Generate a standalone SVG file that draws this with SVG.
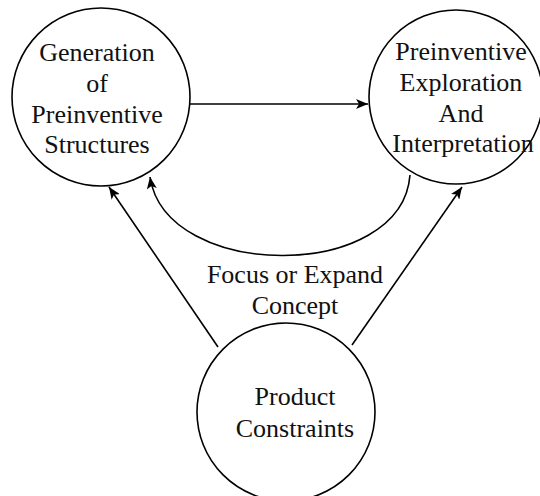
<svg xmlns="http://www.w3.org/2000/svg" width="540" height="496" viewBox="0 0 540 496">
<style>
.node circle{fill:#fff;stroke:#000;stroke-width:1.6}
text{font-family:"Liberation Serif","Times New Roman",serif;font-size:26px;fill:#111;text-anchor:middle}
.conn path{fill:none;stroke:#000;stroke-width:1.6}
</style>
<defs>
<marker id="ah" viewBox="0 0 12 10" refX="12" refY="5" markerWidth="12" markerHeight="10" markerUnits="userSpaceOnUse" orient="auto">
<path d="M0,0 L12,5 L0,10 L3,5 Z" fill="#000"/>
</marker>
</defs>
<rect width="540" height="496" fill="#fff"/>
<g id="gen" class="node">
<circle cx="101" cy="97" r="89"/>
<text x="97" y="61">Generation</text>
<text x="97" y="92">of</text>
<text x="97" y="123">Preinventive</text>
<text x="97" y="153">Structures</text>
</g>
<g id="explore" class="node">
<circle cx="456" cy="97" r="87"/>
<text x="461" y="60">Preinventive</text>
<text x="461" y="91">Exploration</text>
<text x="461" y="122">And</text>
<text x="463" y="152">Interpretation</text>
</g>
<g id="product" class="node">
<circle cx="286" cy="412" r="89"/>
<text x="295" y="405">Product</text>
<text x="295" y="437">Constraints</text>
</g>
<g id="label">
<text x="295" y="283">Focus or Expand</text>
<text x="295" y="314">Concept</text>
</g>
<g class="conn">
<path d="M190,104 L368,104" marker-end="url(#ah)"/>
<path d="M410,175 C402,282 166,282 150,177" marker-end="url(#ah)"/>
<path d="M218,347 L109,187" marker-end="url(#ah)"/>
<path d="M352,345 L462,187" marker-end="url(#ah)"/>
</g>
</svg>
